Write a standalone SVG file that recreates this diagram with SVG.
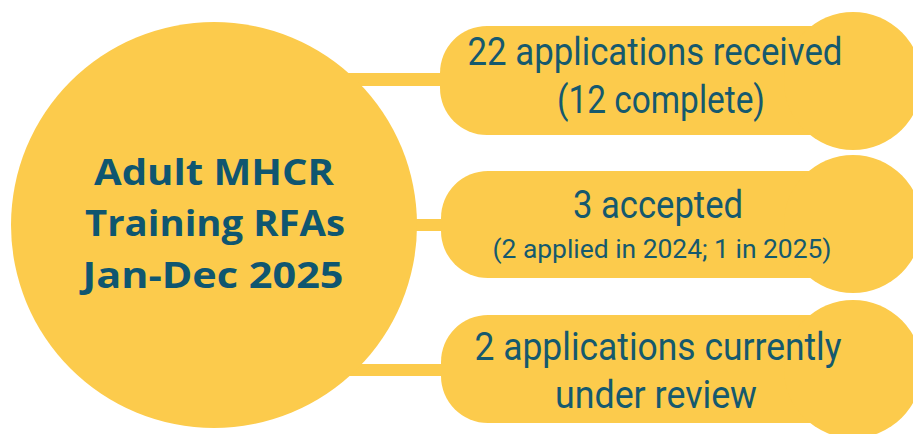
<svg xmlns="http://www.w3.org/2000/svg" width="913" height="434" viewBox="0 0 913 434">
  <style>
    .y { fill: #FCCB4C; }
    .title { font-family: "Open Sans", "Liberation Sans", sans-serif; font-weight: 700; font-size: 36px; fill: #0F5670; text-anchor: middle; }
    .t { font-family: Roboto, "Liberation Sans", sans-serif; font-size: 38px; fill: #15596E; text-anchor: middle; }
    .s { font-family: Roboto, "Liberation Sans", sans-serif; font-size: 25px; fill: #15596E; text-anchor: middle; }
  </style>
  <rect width="913" height="434" fill="#FFFFFF"/>
  <g id="connectors">
    <rect class="y" x="330" y="73" width="120" height="13"/>
    <rect class="y" x="400" y="219" width="50" height="12"/>
    <rect class="y" x="330" y="364" width="120" height="12"/>
  </g>
  <g id="center">
    <circle class="y" cx="214" cy="225" r="203"/>
    <text class="title" x="214" y="185" textLength="240" lengthAdjust="spacingAndGlyphs">Adult MHCR</text>
    <text class="title" x="215" y="236" textLength="260" lengthAdjust="spacingAndGlyphs">Training RFAs</text>
    <text class="title" x="213" y="288" textLength="261" lengthAdjust="spacingAndGlyphs">Jan-Dec 2025</text>
  </g>
  <g id="node1">
    <rect class="y" x="440" y="26" width="430" height="109" rx="47"/>
    <circle class="y" cx="853" cy="81" r="69"/>
    <text class="t" x="655" y="65" textLength="375" lengthAdjust="spacingAndGlyphs">22 applications received</text>
    <text class="t" x="661" y="113" textLength="208" lengthAdjust="spacingAndGlyphs">(12 complete)</text>
  </g>
  <g id="node2">
    <rect class="y" x="441" y="171" width="430" height="107" rx="47"/>
    <circle class="y" cx="853" cy="224" r="69"/>
    <text class="t" x="658" y="218" textLength="170" lengthAdjust="spacingAndGlyphs">3 accepted</text>
    <text class="s" x="662" y="258" textLength="339" lengthAdjust="spacingAndGlyphs">(2 applied in 2024; 1 in 2025)</text>
  </g>
  <g id="node3">
    <rect class="y" x="441" y="315" width="430" height="108" rx="47"/>
    <circle class="y" cx="853" cy="369" r="69"/>
    <text class="t" x="658" y="360" textLength="367" lengthAdjust="spacingAndGlyphs">2 applications currently</text>
    <text class="t" x="656" y="408" textLength="202" lengthAdjust="spacingAndGlyphs">under review</text>
  </g>
</svg>
